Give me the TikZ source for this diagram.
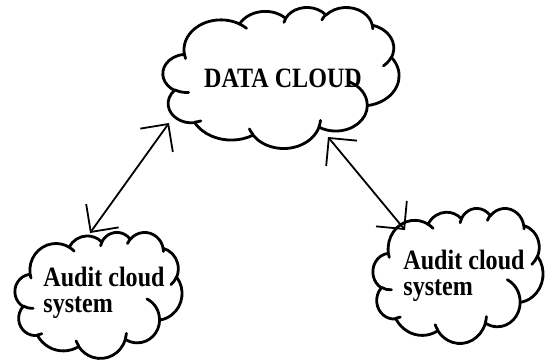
\documentclass[tikz,border=0pt]{standalone}
\usepackage{fontspec}
\usepackage{tikz}
\usetikzlibrary{positioning,arrows.meta,calc}
\newfontfamily\cloudfont[FakeStretch=0.86]{Liberation Serif}

% one puff of the cloud: x radius, y radius, true start angle, sweep
\newcommand\puffarc[4]{%
  \pgfmathsetmacro\puffs{atan2(#1*sin(#3),#2*cos(#3))}%
  \pgfmathsetmacro\puffe{atan2(#1*sin(#3+#4),#2*cos(#3+#4))}%
  \pgfmathsetmacro\puffd{\puffe-\puffs}%
  \pgfmathsetmacro\puffd{\puffd<0 ? \puffd+360 : \puffd}%
}
\newcommand\puff[4]{\pgfextra{\puffarc{#1}{#2}{#3}{#4}} arc[x radius=#1,y radius=#2,start angle=\puffs,delta angle=\puffd]}

\tikzset{
  puffline/.style={line width=1.4pt, line cap=round, line join=round},
  cloudtext/.style={font=\cloudfont\bfseries\fontsize{14}{12.8}\selectfont, align=left, inner sep=0pt},
  link/.style={line width=0.9pt, {Straight Barb[length=10pt,width=20pt]}-{Straight Barb[length=10pt,width=20pt]}},
  wordcloud/.pic={
    \draw[puffline] (39.00,143.70)
      \puff{67.53}{91.90}{-190.4875}{123.7805}
      \puff{53.33}{72.67}{-144.1024}{89.9452}
      \puff{43.65}{59.45}{-145.8079}{99.7230}
      \puff{48.57}{65.95}{-130.9861}{117.2417}
      \puff{53.33}{72.73}{-78.7089}{109.0269}
      \puff{67.75}{92.20}{-46.2673}{130.2690}
      \puff{57.85}{78.67}{0.6250}{114.0333}
      \puff{67.52}{92.15}{22.4516}{115.1726}
      \puff{77.20}{105.43}{66.2426}{75.7110}
      \puff{43.60}{59.18}{-274.9421}{146.7356}
      \puff{43.45}{59.45}{-246.8285}{152.5189} -- cycle;
    % inner hooks
    \draw[puffline] (46.93,261.77) \puff{43.45}{59.45}{86.7420}{26.4295};
    \draw[puffline] (69.28,348.99) \puff{43.60}{59.18}{73.6105}{11.4475};
    \draw[puffline] (164.78,390.90) \puff{67.52}{92.15}{137.6242}{14.0811};
    \draw[puffline] (288.27,347.51) \puff{67.52}{92.15}{6.4533}{15.9984};
    \draw[puffline] (341.29,229.54) \puff{57.85}{78.67}{-70.2924}{70.9174};
    \draw[puffline] (417.98,153.54) \puff{53.33}{72.73}{30.3180}{27.7515};
    \draw[puffline] (383.24,54.26) \puff{48.57}{65.95}{-13.7443}{14.8589};
    \draw[puffline] (290.78,39.52) \puff{48.57}{65.95}{-149.1815}{18.1954};
    \draw[puffline] (221.41,47.20) \puff{43.65}{59.45}{-163.4943}{17.6864};
    \draw[puffline] (140.00,51.92) \puff{67.53}{91.90}{-66.7070}{12.3194};
    \draw[puffline] (41.27,157.89) \puff{67.53}{91.90}{157.6544}{11.8582};
    \coordinate (-c) at (216,216);
  }
}

\begin{document}
\begin{tikzpicture}[x=0.5pt,y=-0.5pt]
  \useasboundingbox (0,0) rectangle (546,360);

  % Clouds (box 432 x 432, scaled to size)
  \pic[xscale=236/432, yscale=141/432] (data) at (163,7) {wordcloud};
  \pic[xscale=167/432, yscale=126/432] (auditL) at (15,232) {wordcloud};
  \pic[xscale=170/432, yscale=135/432] (auditR) at (373,208) {wordcloud};

  % Labels
  \node[cloudtext] (dataT) at (283,78) {DATA CLOUD};
  \node[cloudtext] (auditLT) at (104,293) {Audit cloud\\system};
  \node[cloudtext] (auditRT) at (464,276) {Audit cloud\\system};

  % Arrows
  \draw[link] ($(auditL-c)+(-8.5,-62)$) -- ($(data-c)+(-112,45.5)$);
  \draw[link] ($(data-c)+(47,59.5)$) -- ($(auditR-c)+(-53,-45.5)$);

\end{tikzpicture}
\end{document}
